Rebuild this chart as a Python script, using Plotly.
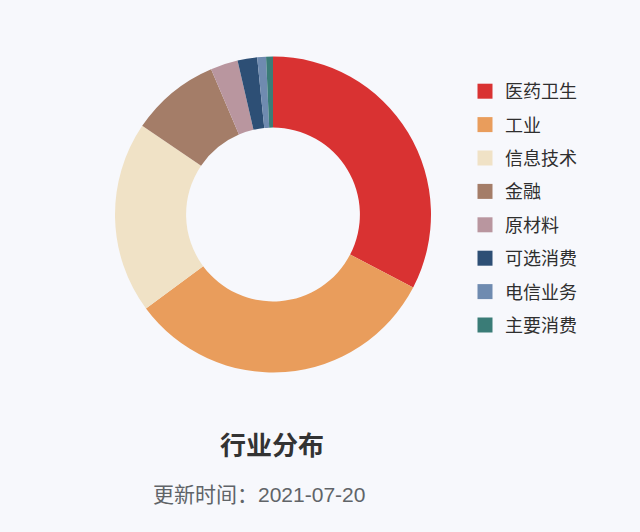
import plotly.graph_objects as go

categories = ["医药卫生", "工业", "信息技术", "金融", "原材料", "可选消费", "电信业务", "主要消费"]
values = [32.6, 32.2, 19.6, 9.1, 2.8, 2.0, 0.9, 0.7]
colors = ["#d93232", "#e99d5c", "#f0e2c6", "#a47d68", "#b9969f", "#2d4f75", "#6f8bb0", "#3a7c77"]

title_text = "行业分布"
subtitle_text = "更新时间：2021-07-20"

W, H = 640, 532
FONT = "Liberation Sans, Noto Sans CJK SC, sans-serif"

fig = go.Figure()
fig.add_trace(go.Pie(
    labels=categories,
    values=values,
    marker=dict(colors=colors, line=dict(width=0)),
    hole=0.55,
    sort=False,
    direction="clockwise",
    rotation=0,
    textinfo="none",
    hoverinfo="label+percent",
    showlegend=False,
    domain=dict(x=[115 / W, 431 / W], y=[1 - 373 / H, 1 - 56 / H]),
))

# legend entries (one per category)
for i, (c, col) in enumerate(zip(categories, colors)):
    fig.add_trace(go.Scatter(
        x=[None], y=[None], mode="markers", name=c,
        legendgroup=f"g{i}",
        marker=dict(symbol="square", size=15, color=col, line=dict(width=0)),
        hoverinfo="skip",
    ))

fig.update_layout(
    width=W, height=H,
    margin=dict(l=0, r=0, t=0, b=0),
    paper_bgcolor="#f7f8fc",
    plot_bgcolor="#f7f8fc",
    xaxis=dict(visible=False),
    yaxis=dict(visible=False),
    showlegend=True,
    legend=dict(
        x=465 / W, xanchor="left",
        y=1 - 73 / H, yanchor="top",
        bgcolor="rgba(0,0,0,0)",
        font=dict(family=FONT, size=18, color="#2f2f2f"),
        tracegroupgap=7,
        itemsizing="trace",
        itemclick=False, itemdoubleclick=False,
    ),
    font=dict(family=FONT),
    annotations=[
        dict(text=f"<b>{title_text}</b>", x=272 / W, y=1 - 446 / H, xref="paper", yref="paper",
             xanchor="center", yanchor="middle", showarrow=False,
             font=dict(family=FONT, size=26, color="#333333")),
        dict(text=subtitle_text, x=259 / W, y=1 - 494 / H, xref="paper", yref="paper",
             xanchor="center", yanchor="middle", showarrow=False,
             font=dict(family=FONT, size=21, color="#606468")),
    ],
)

fig.write_html(
    "out.html",
    config={"displayModeBar": False},
    post_script="document.body.style.margin='0';document.body.style.background='#f7f8fc';",
)
